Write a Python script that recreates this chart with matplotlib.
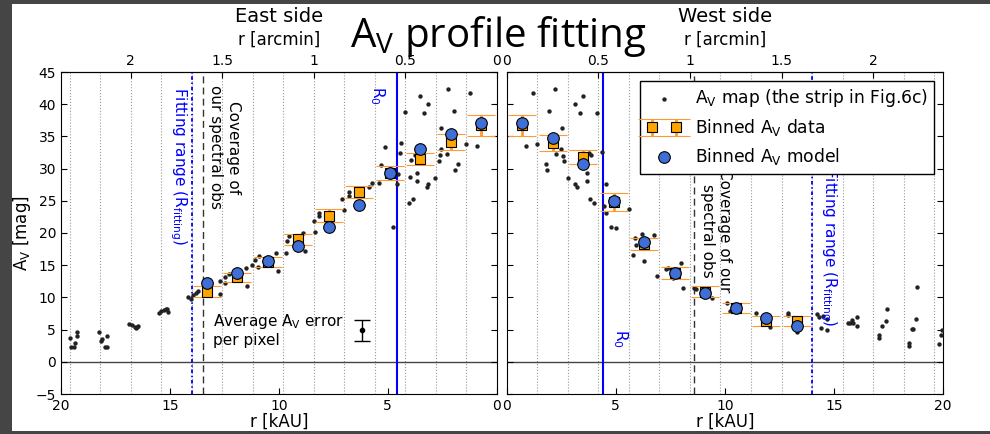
import matplotlib
import matplotlib.pyplot as plt
import numpy as np
from matplotlib.patches import Rectangle
from matplotlib.ticker import FixedLocator, FormatStrFormatter

plt.switch_backend('agg')

# kAU per arcmin at 140 pc
KAU_PER_ARCMIN = 8.4

# binned profile (bin centres in kAU)
bin_r = [0.7, 2.1, 3.5, 4.9, 6.3, 7.7, 9.1, 10.5, 11.9, 13.3]

east_data = [36.7, 34.1, 31.5, 29.3, 26.4, 22.7, 19.0, 15.5, 13.1, 10.9]
east_err = [1.7, 1.25, 0.95, 1.1, 0.9, 0.95, 0.8, 0.8, 0.75, 0.8]
east_model = [37.1, 35.4, 33.1, 29.3, 24.4, 21.0, 18.0, 15.65, 13.8, 12.3]

west_data = [36.7, 34.0, 31.8, 24.8, 18.3, 13.8, 10.9, 8.4, 6.3, 6.3]
west_err = [1.7, 1.25, 1.05, 1.35, 1.0, 0.9, 0.9, 0.8, 0.75, 0.8]
west_model = [37.1, 34.7, 30.7, 25.0, 18.65, 13.8, 10.7, 8.4, 6.8, 5.56]

# pixel values along the strip
east_map_r = [19.6, 19.55, 19.4, 19.36, 19.28, 19.28,
              18.26, 18.18, 18.1, 17.98, 17.88, 17.88,
              16.88, 16.73, 16.6, 16.53, 16.45, 16.57,
              15.5, 15.43, 15.28, 15.2, 15.12, 15.08,
              14.16, 14.05, 13.94, 13.82, 13.7,
              5.72, 5.87, 7.1, 6.76, 6.76, 6.99, 8.17, 8.17, 8.39, 8.35,
              9.54, 9.62, 8.88, 8.78, 9.66, 10.15, 11.1, 10.95, 10.03, 11.49,
              12.3, 12.45, 12.72, 12.45, 12.7, 11.45, 11.22, 10.92,
              5.38, 5.33, 5.14, 4.53, 4.57, 4.42, 4.37, 4.19, 4.04, 3.84,
              4.0, 3.66, 3.66, 3.76, 3.93, 3.53, 3.35, 3.17, 3.22, 3.17,
              2.81, 2.63, 2.59, 2.54, 2.55, 2.28, 2.25, 1.97, 1.9, 1.79,
              1.39, 1.24, 0.9, 4.76]
east_map_av = [3.65, 2.35, 2.35, 2.97, 4.58, 4.05,
               4.58, 3.23, 3.5, 2.35, 2.35, 3.96,
               5.87, 5.66, 5.36, 5.45, 5.5, 5.2,
               7.6, 7.93, 8.04, 8.15, 8.15, 7.78,
               10.0, 9.7, 10.37, 10.73, 11.0,
               27.7, 27.2, 25.3, 26.3, 25.7, 23.6, 23.15, 22.6, 21.9, 20.2,
               19.5, 18.76, 19.95, 17.25, 16.9, 16.9, 15.8, 14.7, 14.15, 14.6,
               13.7, 13.1, 12.6, 12.2, 10.5, 11.8, 15.0, 16.4,
               27.8, 30.56, 33.4, 29.2, 27.6, 32.5, 34.0, 38.8, 24.6, 25.3,
               28.7, 29.3, 28.1, 32.1, 31.3, 41.3, 38.7, 40.0, 27.2, 27.6,
               28.5, 31.2, 32.1, 33.0, 36.3, 32.2, 42.4, 38.9, 29.8, 30.7,
               33.8, 41.8, 33.5, 20.9]

west_map_r = [1.21, 0.89, 1.38, 1.94, 2.2, 2.54, 2.51, 2.25, 2.58, 2.64,
              1.78, 1.87, 2.81, 3.12, 3.2, 3.15, 3.35, 3.5, 3.66, 3.66,
              3.81, 4.0, 3.85, 3.76, 4.16, 4.39, 4.53, 4.46, 4.54, 4.77,
              5.0, 5.6, 5.9, 6.18, 6.76, 5.95, 5.77, 6.28, 6.91, 7.28,
              8.01, 8.09, 7.4, 7.63, 8.58, 8.7, 8.93, 9.13, 9.39, 9.24,
              10.1, 10.25, 10.38, 10.6, 11.45, 11.73, 11.86, 12.06, 11.8,
              12.88, 12.9, 13.29, 13.29, 14.21, 14.31, 14.48, 14.4, 14.66, 14.7,
              15.66, 15.73, 15.81, 16.07, 16.04, 15.89,
              17.08, 17.08, 17.19, 17.39, 17.45,
              18.45, 18.45, 18.56, 18.64, 18.76, 18.79,
              19.83, 19.9, 19.94]
west_map_av = [41.8, 33.5, 33.8, 38.9, 42.4, 36.3, 33.0, 32.2, 32.0, 31.2,
               30.7, 29.8, 28.5, 27.6, 27.1, 40.0, 38.7, 41.3, 29.3, 28.1,
               25.3, 24.6, 32.1, 32.5, 38.7, 32.6, 27.6, 24.2, 23.15, 21.0,
               20.7, 23.8, 19.3, 19.8, 19.7, 18.1, 16.6, 15.7, 13.3, 14.4,
               15.3, 11.5, 14.5, 13.0, 11.5, 11.25, 10.9, 11.25, 9.95, 11.5,
               9.1, 7.9, 8.0, 8.2, 7.6, 6.5, 5.98, 5.35, 6.1,
               7.6, 7.26, 4.68, 5.56, 7.5, 7.0, 7.1, 5.2, 4.94, 6.6,
               6.07, 5.97, 6.5, 7.0, 5.56, 5.97,
               4.16, 3.74, 5.56, 6.34, 8.15,
               2.97, 2.45, 5.04, 5.04, 6.6, 11.66,
               2.76, 4.16, 4.94]

# characteristic radii per side (kAU)
east_r0, west_r0 = 4.58, 4.43
east_cover, west_cover = 13.5, 8.6
r_fit = 14.0

# mean per-pixel error
avg_err_r, avg_err_av, avg_err = 6.2, 4.9, 1.65

plt.rcParams['font.family'] = 'DejaVu Sans'
plt.rcParams['mathtext.default'] = 'regular'

fig = plt.figure(figsize=(9.9, 4.34), dpi=100)
fig.patch.set_facecolor('#454545')
fig.add_artist(Rectangle((12/990., 3/434.), 1, 427/434., transform=fig.transFigure,
                         facecolor='white', edgecolor='none', zorder=-10))

axL = fig.add_axes([61/990., 40/434., 435.7/990., 322/434.])
axR = fig.add_axes([506.7/990., 40/434., 436.3/990., 322/434.])


def draw_side(ax, map_r, map_av, data, err, model, r0, cover):
    for k in range(1, 15):
        ax.axvline(1.4*k, color='#999999', ls=':', lw=0.8, zorder=0)
    ax.axhline(0, color='#444444', lw=1, zorder=1)
    ax.axvline(r0, color='blue', lw=1.5, zorder=2)
    ax.axvline(cover, color='#333333', ls='--', lw=1, dashes=(5, 3), zorder=2)
    ax.axvline(r_fit, color='blue', ls=(0, (2, 1.5, 0.8, 1.5)), lw=1.3, zorder=2)
    m = ax.scatter(map_r, map_av, s=10, color='#222222', lw=0, zorder=3,
                   label='A$_V$ map (the strip in Fig.6c)')
    e = ax.errorbar(bin_r, data, yerr=err, fmt='s', color='#ff9a30', mfc='orange',
                    mec='black', mew=0.8, ms=7, capsize=10, elinewidth=2, capthick=1.6,
                    zorder=4, label='Binned A$_V$ data')
    c = ax.scatter(bin_r, model, s=70, color='#3f6fd6', edgecolor='black', lw=0.8,
                   zorder=5, label='Binned A$_V$ model')
    ax.set_ylim(-5, 45)
    ax.set_yticks(np.arange(-5, 46, 5))
    ax.set_xticks([0, 5, 10, 15, 20])
    ax.tick_params(direction='in', top=False, right=True, length=4, labelsize=10)
    ax.set_xlabel('r [kAU]', fontsize=12, labelpad=0)
    sec = ax.secondary_xaxis('top', functions=(lambda r: r/KAU_PER_ARCMIN,
                                               lambda a: a*KAU_PER_ARCMIN))
    sec.xaxis.set_major_locator(FixedLocator([0, 0.5, 1, 1.5, 2]))
    sec.xaxis.set_major_formatter(FormatStrFormatter('%g'))
    sec.tick_params(direction='in', length=4, labelsize=10, pad=3)
    return m, e, c


draw_side(axL, east_map_r, east_map_av, east_data, east_err, east_model, east_r0, east_cover)
axL.set_xlim(20, 0)
axL.set_ylabel('A$_V$ [mag]', fontsize=12, labelpad=2)

m, e, c = draw_side(axR, west_map_r, west_map_av, west_data, west_err, west_model,
                    west_r0, west_cover)
axR.set_xlim(0, 20)
axR.tick_params(labelleft=False)

leg = axR.legend(handles=[m, e, c], loc='upper right', numpoints=2, scatterpoints=1,
                 fancybox=False, framealpha=1, edgecolor='black', fontsize=12.3,
                 borderaxespad=0.5, handletextpad=0.8, labelspacing=0.45)
leg.get_frame().set_linewidth(1)

# line annotations
axL.text(14.63, 30.4, 'Fitting range (R$_{fitting}$)', color='blue', rotation=270,
         ha='center', va='center', fontsize=11)
axL.text(12.5, 33.3, 'Coverage of\nour spectral obs', rotation=270, ha='center',
         va='center', multialignment='center', fontsize=11)
axL.text(5.46, 41.4, 'R$_0$', color='blue', rotation=270, ha='center', va='center',
         fontsize=11)
axL.text(13.0, 4.9, 'Average A$_V$ error\nper pixel', ha='left', va='center', fontsize=11)
axL.errorbar([avg_err_r], [avg_err_av], yerr=[avg_err], fmt='o', color='black', ms=3,
             capsize=6, elinewidth=1, zorder=5)

axR.text(9.6, 20.3, 'Coverage of our\nspectral obs', rotation=270, ha='center',
         va='center', multialignment='center', fontsize=11)
axR.text(14.75, 17.8, 'Fitting range (R$_{fitting}$)', color='blue', rotation=270,
         ha='center', va='center', fontsize=11)
axR.text(5.2, 3.7, 'R$_0$', color='blue', rotation=270, ha='center', va='center',
         fontsize=11)

fig.text(279/990., 1-16/434., 'East side', ha='center', va='center', fontsize=14)
fig.text(279/990., 1-40/434., 'r [arcmin]', ha='center', va='center', fontsize=12)
fig.text(725/990., 1-16/434., 'West side', ha='center', va='center', fontsize=14)
fig.text(725/990., 1-40/434., 'r [arcmin]', ha='center', va='center', fontsize=12)
fig.text(498/990., 1-47/434., r'A$\mathregular{_V}$ profile fitting', ha='center',
         va='baseline', fontsize=29, family='Open Sans')

fig.savefig('out.png', dpi=100, facecolor=fig.get_facecolor())
